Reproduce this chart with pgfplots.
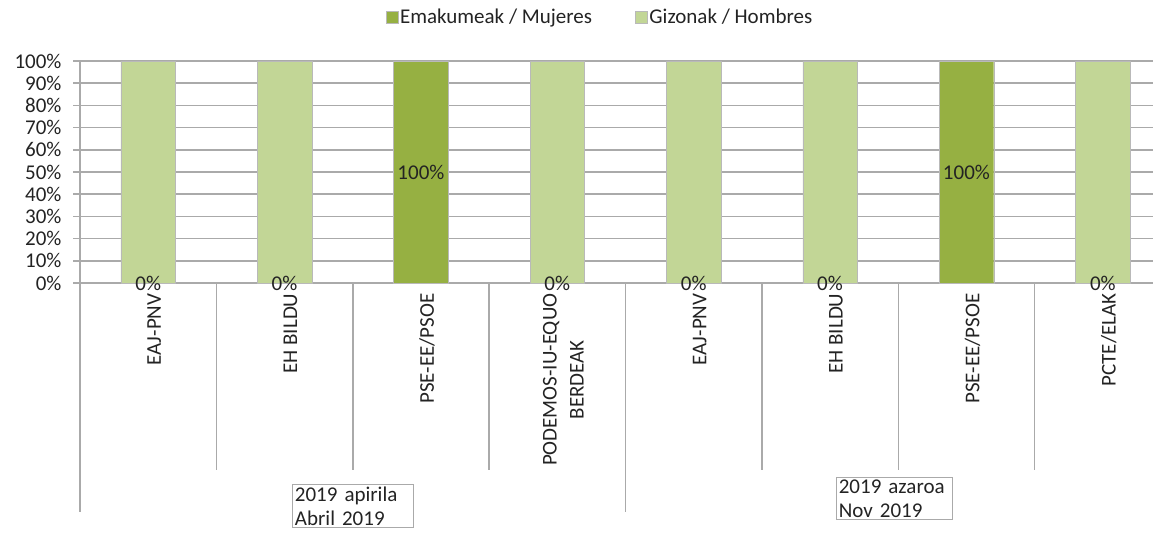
\documentclass[border=0pt]{standalone}
\usepackage{fontspec}
\setmainfont{Carlito}
\usepackage{pgfplots}
\pgfplotsset{compat=1.18}
\usetikzlibrary{calc}
\definecolor{women}{RGB}{150,176,66}
\definecolor{men}{RGB}{194,214,150}
\definecolor{gridgray}{RGB}{170,170,170}
\definecolor{bordergray}{RGB}{185,185,185}
\definecolor{txt}{RGB}{35,35,35}
\newcommand{\fs}{\fontsize{21}{24}\selectfont}
\begin{document}
\begin{tikzpicture}
\begin{axis}[
  scale only axis, width=1073pt, height=222pt,
  ybar, bar shift=0pt, bar width=0.4,
  xmin=-0.5, xmax=7.368, ymin=0, ymax=100,
  xtick={0,...,7},
  xticklabels={EAJ-PNV, EH BILDU, PSE-EE/PSOE, {PODEMOS-IU-EQUO\\BERDEAK}, EAJ-PNV, EH BILDU, PSE-EE/PSOE, PCTE/ELAK},
  xticklabel style={rotate=90, anchor=east, align=center, font=\fontsize{21}{27}\selectfont, text=txt, yshift=-6pt},
  x tick style={draw=none},
  ytick={0,10,...,100},
  yticklabel={\pgfmathprintnumber{\tick}\%},
  /pgf/number format/assume math mode=true,
  yticklabel style={font=\fs, text=txt, xshift=-8pt},
  ymajorgrids, grid style={gridgray, line width=1.5pt},
  axis x line*=bottom, axis y line*=left,
  axis line style={gridgray, line width=1.5pt, -},
  y tick style={gridgray, line width=1.5pt},
  tick align=outside, major tick length=7pt,
  clip=false,
  legend style={at={(0.4846,1)}, anchor=center, yshift=44pt, draw=none, fill=none, font=\fs, text=txt,
    legend columns=2, /tikz/every even column/.append style={column sep=41pt}, inner sep=0pt},
  legend image code/.code={\draw[#1, draw=bordergray] (0pt,-6pt) rectangle (12pt,6pt);},
]
% women share (%)
\addplot[fill=women, draw=bordergray]
  coordinates {(0,0) (1,0) (2,100) (3,0) (4,0) (5,0) (6,100) (7,0)};
\addlegendentry{Emakumeak / Mujeres}
% men share (%)
\addplot[fill=men, draw=bordergray]
  coordinates {(0,100) (1,100) (2,0) (3,100) (4,100) (5,100) (6,0) (7,100)};
\addlegendentry{Gizonak / Hombres}
% data labels of women share, at the middle of the women bar
\addplot[draw=none, fill=none, forget plot,
  visualization depends on={rawy \as \rawy},
  nodes near coords={\pgfmathprintnumber{\rawy}\%},
  every node near coord/.append style={anchor=center, font=\fs, text=txt, yshift={-1.11pt*\rawy}}]
  coordinates {(0,0) (1,0) (2,100) (3,0) (4,0) (5,0) (6,100) (7,0)};
\pgfplotsinvokeforeach{0.5,1.5,2.5,4.5,5.5,6.5}{
  \draw[gridgray, line width=1.5pt] (axis cs:#1,0) -- ++(0pt,-187pt);
}
\pgfplotsinvokeforeach{-0.5,3.5}{
  \draw[gridgray, line width=1.5pt] (axis cs:#1,0) -- ++(0pt,-229pt);
}
\node[draw=gridgray, line width=1pt, anchor=north, align=left, inner sep=2pt, text width=117pt, font=\fs, text=txt, yshift=-201pt] at (axis cs:1.505,0) {2019 apirila\\Abril 2019};
\node[draw=gridgray, line width=1pt, anchor=north, align=left, inner sep=2pt, text width=112pt, font=\fs, text=txt, yshift=-194pt] at (axis cs:5.475,0) {2019 azaroa\\Nov 2019};
\end{axis}
\pgfresetboundingbox
\useasboundingbox ($(current axis.south west)+(-80pt,-252pt)$) rectangle ($(current axis.north east)+(0pt,61pt)$);
\end{tikzpicture}
\end{document}
